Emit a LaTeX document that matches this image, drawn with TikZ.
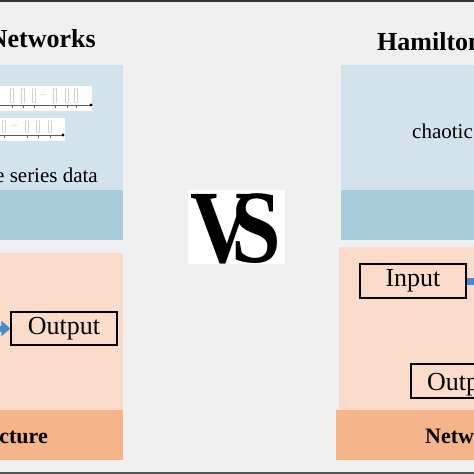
\documentclass[tikz,border=0pt]{standalone}
\usepackage{fontspec}
\setmainfont{Liberation Serif}
\usetikzlibrary{arrows.meta}
\definecolor{bgc}{HTML}{F0F0F0}
\definecolor{topbar}{HTML}{333333}
\definecolor{botbar}{HTML}{555555}
\definecolor{lblue}{HTML}{D3E3EC}
\definecolor{dblue}{HTML}{A9CADA}
\definecolor{peach}{HTML}{FBDCCA}
\definecolor{dorange}{HTML}{F5B48A}
\definecolor{arrowblue}{HTML}{4A8BD0}
\definecolor{barline}{HTML}{B8B8B8}
\tikzset{
  titletext/.style={font=\fontsize{26}{30}\selectfont\bfseries, inner sep=0pt},
  bodytext/.style={font=\fontsize{21}{25}\selectfont, inner sep=0pt},
  foottext/.style={font=\fontsize{22}{26}\selectfont\bfseries, inner sep=0pt},
  iobox/.style={draw=black, line width=1.2pt, fill=peach, font=\fontsize{26}{30}\selectfont, inner sep=0pt},
  blockarrow/.style={draw=arrowblue, line width=6pt, -{Triangle[length=9pt,width=15pt]}},
  tsbar/.style={draw=barline, line width=0.4pt, rounded corners=1pt, fill=white},
  tsaxis/.style={draw=black!65, line width=1pt},
}
\begin{document}
\begin{tikzpicture}[x=1pt,y=-1pt]
\useasboundingbox (0,0) rectangle (474,474);
\clip (0,0) rectangle (474,474);
\fill[bgc] (0,0) rectangle (474,474);
\fill[topbar] (0,0) rectangle (474,2);
\fill[botbar] (0,472) rectangle (474,474);

% left panel
\fill[lblue] (0,65) rectangle (123,190);
\fill[dblue] (0,190) rectangle (123,240);
\fill[peach] (0,253) rectangle (123,410);
\fill[dorange] (0,410) rectangle (123,460);

% right panel
\fill[lblue] (341,65) rectangle (474,190);
\fill[dblue] (341,190) rectangle (474,240);
\fill[peach] (339,247) rectangle (474,410);
\fill[dorange] (336,410) rectangle (474,460);

% titles
\node[titletext, anchor=base east] (lt) at (96,47) {Networks};
\node[titletext, anchor=base west] (rt) at (377,50) {Hamilton};

% time series graphic row 1
\fill[white] (0,86) rectangle (92,111);
\foreach \x in {12,23,34,55,67,76}{
  \draw[tsbar] (\x-1.6,88) rectangle (\x+1.6,103);
  \draw[black!60, line width=0.4pt] (\x,105) -- (\x,107.5);
}
\node[font=\fontsize{5}{5}\selectfont, text=black!50, inner sep=0pt] (dots1) at (43,96) {---};
\draw[tsaxis] (0,105) -- (91,105);
\fill[black] (91,105) circle (1.6);
% row 2
\fill[white] (0,118) rectangle (65,141);
\foreach \x in {4,27,38,50}{
  \draw[tsbar] (\x-1.6,120) rectangle (\x+1.6,133);
  \draw[black!60, line width=0.4pt] (\x,135) -- (\x,137.5);
}
\node[font=\fontsize{5}{5}\selectfont, text=black!50, inner sep=0pt] (dots2) at (15,127) {---};
\draw[tsaxis] (0,135) -- (63,135);
\fill[black] (63,135) circle (1.6);

% body texts
\node[bodytext, anchor=base east] (lts) at (98,182) {e series data};
\node[bodytext, anchor=base west] (rch) at (412,138) {chaotic};

% VS logo
\fill[white] (188,190) rectangle (285,264);
\node[inner sep=0pt, anchor=base, font=\fontsize{104}{104}\selectfont\bfseries, xscale=0.86] (vs) at (236,262) {V\kern-0.27em S};

% boxes
\node[iobox, minimum width=106pt, minimum height=33pt] (lout) at (64,328.5) {Output};
\coordinate (lin) at (-12,328.5);
\draw[blockarrow] (lin) -- (lout.west);

\node[iobox, minimum width=106pt, minimum height=34pt] (rin) at (413,281) {Input};
\coordinate (rnext) at (490,281);
\draw[draw=arrowblue, line width=7pt] (rin.east) -- (rnext);

\draw[black, line width=1.2pt, fill=peach] (411,364) rectangle (490,398);
\node[font=\fontsize{26}{30}\selectfont, inner sep=0pt, anchor=base west] (rout) at (427,390) {Output};

% footer texts
\node[foottext, anchor=base east] (lft) at (48,443) {cture};
\node[foottext, anchor=base west] (rft) at (425,443) {Network};
\end{tikzpicture}
\end{document}
